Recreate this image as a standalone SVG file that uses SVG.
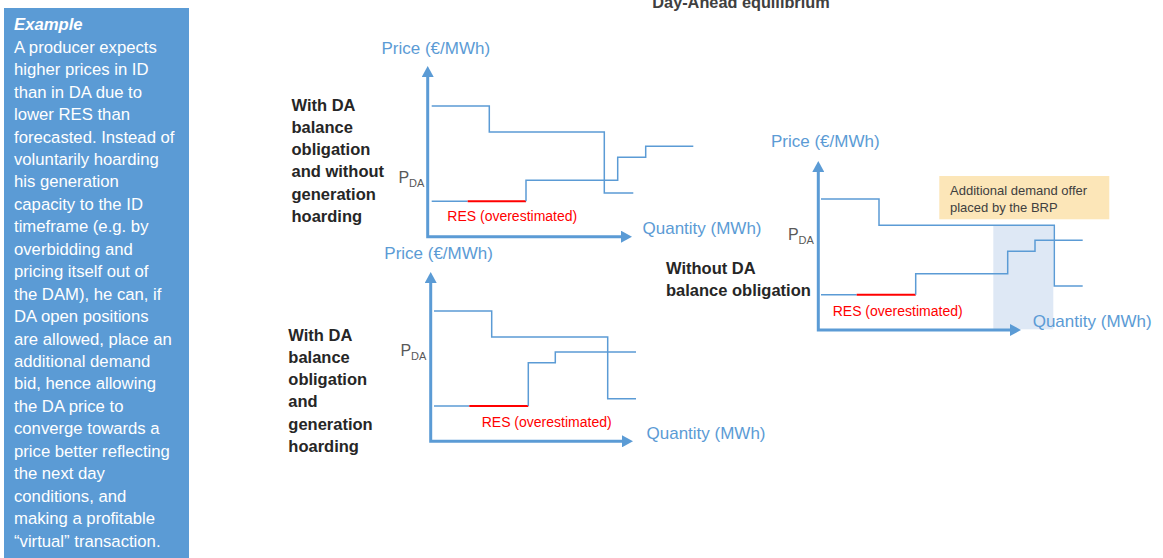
<svg xmlns="http://www.w3.org/2000/svg" width="1163" height="558" viewBox="0 0 1163 558">
<style>
text{font-family:"Liberation Sans",Arial,sans-serif}
.box{fill:#5B9BD5}
.wt{fill:#FFFFFF;font-size:16.7px}
.title{fill:#404040;font-size:16.3px;font-weight:bold}
.axl{fill:#5B9BD5;font-size:17px}
.res{fill:#FF0000;font-size:14px}
.lbl{fill:#262626;font-size:16.5px;font-weight:bold}
.p{fill:#595959;font-size:16px}
.sub{fill:#595959;font-size:11px}
.axis{stroke:#5B9BD5;stroke-width:3;fill:none}
.curve{stroke:#5B9BD5;stroke-width:1.5;fill:none}
.red{stroke:#FF0000;stroke-width:2;fill:none}
.note{fill:#404040;font-size:13px}
</style>
<defs>
<marker id="arr" markerUnits="userSpaceOnUse" markerWidth="12" markerHeight="12" refX="4" refY="6" orient="auto-start-reverse">
<path d="M0,0 L11,6 L0,12 z" fill="#5B9BD5"/>
</marker>
</defs>
<rect width="1163" height="558" fill="#FFFFFF"/>

<g id="example-box">
<rect class="box" x="4" y="8" width="185" height="552"/>
<text class="wt" x="14" y="30" font-weight="bold" font-style="italic">Example</text>
<text class="wt" x="14" y="52.7">A producer expects</text>
<text class="wt" x="14" y="75.15">higher prices in ID</text>
<text class="wt" x="14" y="97.6">than in DA due to</text>
<text class="wt" x="14" y="120.05">lower RES than</text>
<text class="wt" x="14" y="142.5">forecasted. Instead of</text>
<text class="wt" x="14" y="164.95">voluntarily hoarding</text>
<text class="wt" x="14" y="187.4">his generation</text>
<text class="wt" x="14" y="209.85">capacity to the ID</text>
<text class="wt" x="14" y="232.3">timeframe (e.g. by</text>
<text class="wt" x="14" y="254.75">overbidding and</text>
<text class="wt" x="14" y="277.2">pricing itself out of</text>
<text class="wt" x="14" y="299.65">the DAM), he can, if</text>
<text class="wt" x="14" y="322.1">DA open positions</text>
<text class="wt" x="14" y="344.55">are allowed, place an</text>
<text class="wt" x="14" y="367">additional demand</text>
<text class="wt" x="14" y="389.45">bid, hence allowing</text>
<text class="wt" x="14" y="411.9">the DA price to</text>
<text class="wt" x="14" y="434.35">converge towards a</text>
<text class="wt" x="14" y="456.8">price better reflecting</text>
<text class="wt" x="14" y="479.25">the next day</text>
<text class="wt" x="14" y="501.7">conditions, and</text>
<text class="wt" x="14" y="524.15">making a profitable</text>
<text class="wt" x="14" y="546.6">“virtual” transaction.</text>
</g>

<g id="title">
<text class="title" x="741" y="8" text-anchor="middle">Day-Ahead equilibrium</text>
</g>

<g id="chart1">
<text class="lbl" x="291.5" y="110.5">With DA</text>
<text class="lbl" x="291.5" y="132.8">balance</text>
<text class="lbl" x="291.5" y="155.1">obligation</text>
<text class="lbl" x="291.5" y="177.4">and without</text>
<text class="lbl" x="291.5" y="199.7">generation</text>
<text class="lbl" x="291.5" y="222">hoarding</text>
<text class="axl" x="381.5" y="54">Price (€/MWh)</text>
<text class="axl" x="642.5" y="234">Quantity (MWh)</text>
<text class="p" x="398.5" y="183">P</text>
<text class="sub" x="409" y="187">DA</text>
<text class="res" x="447.3" y="221">RES (overestimated)</text>
<polyline class="curve" points="431.7,106 489.3,106 489.3,132 604.3,132 604.3,193 633.3,193"/>
<polyline class="curve" points="431.7,201.3 467.7,201.3"/>
<line class="red" x1="467.7" y1="201.3" x2="526" y2="201.3"/>
<polyline class="curve" points="526,201.3 526,180.3 617.7,180.3 617.7,157.3 645.7,157.3 645.7,146.3 693.3,146.3"/>
</g>

<g id="chart2">
<text class="lbl" x="288.3" y="340.5">With DA</text>
<text class="lbl" x="288.3" y="362.8">balance</text>
<text class="lbl" x="288.3" y="385.1">obligation</text>
<text class="lbl" x="288.3" y="407.4">and</text>
<text class="lbl" x="288.3" y="429.7">generation</text>
<text class="lbl" x="288.3" y="452">hoarding</text>
<text class="axl" x="384.3" y="258.5">Price (€/MWh)</text>
<text class="axl" x="646.5" y="439">Quantity (MWh)</text>
<text class="p" x="400.5" y="355.5">P</text>
<text class="sub" x="411" y="360">DA</text>
<text class="res" x="481.7" y="426.5">RES (overestimated)</text>
<polyline class="curve" points="434,311 491.7,311 491.7,337 607.7,337 607.7,398.7 636,398.7"/>
<polyline class="curve" points="434,406 469.3,406"/>
<line class="red" x1="469.3" y1="406" x2="528.3" y2="406"/>
<polyline class="curve" points="528.3,406 528.3,362.7 555.3,362.7 555.3,352 636,352"/>
</g>

<g id="chart3">
<rect x="993.3" y="226" width="60" height="103.3" fill="#DEE8F5"/>
<rect x="939.3" y="176" width="170" height="43.3" fill="#FCE6B8"/>
<text class="note" x="950" y="194.5">Additional demand offer</text>
<text class="note" x="950" y="211.8">placed by the BRP</text>
<text class="lbl" x="666" y="273.5">Without DA</text>
<text class="lbl" x="666" y="295.5">balance obligation</text>
<text class="axl" x="771" y="146.5">Price (€/MWh)</text>
<text class="axl" x="1032.7" y="327">Quantity (MWh)</text>
<text class="p" x="788" y="240">P</text>
<text class="sub" x="798.5" y="244">DA</text>
<text class="res" x="832.7" y="315.5">RES (overestimated)</text>
<polyline class="curve" points="821,199 879,199 879,225.3 1054.3,225.3 1054.3,286 1082.7,286"/>
<polyline class="curve" points="821,294.7 856.7,294.7"/>
<line class="red" x1="856.7" y1="294.7" x2="915.7" y2="294.7"/>
<polyline class="curve" points="915.7,294.7 915.7,273.7 1007.7,273.7 1007.7,251.3 1035,251.3 1035,240.3 1082.7,240.3"/>
</g>

<g id="connectors">
<polyline class="axis" points="427.7,73 427.7,236.7 625,236.7" marker-start="url(#arr)" marker-end="url(#arr)"/>
<polyline class="axis" points="430.7,279 430.7,441.3 626,441.3" marker-start="url(#arr)" marker-end="url(#arr)"/>
<polyline class="axis" points="818.3,168 818.3,330 1014,330" marker-start="url(#arr)" marker-end="url(#arr)"/>
</g>
</svg>
